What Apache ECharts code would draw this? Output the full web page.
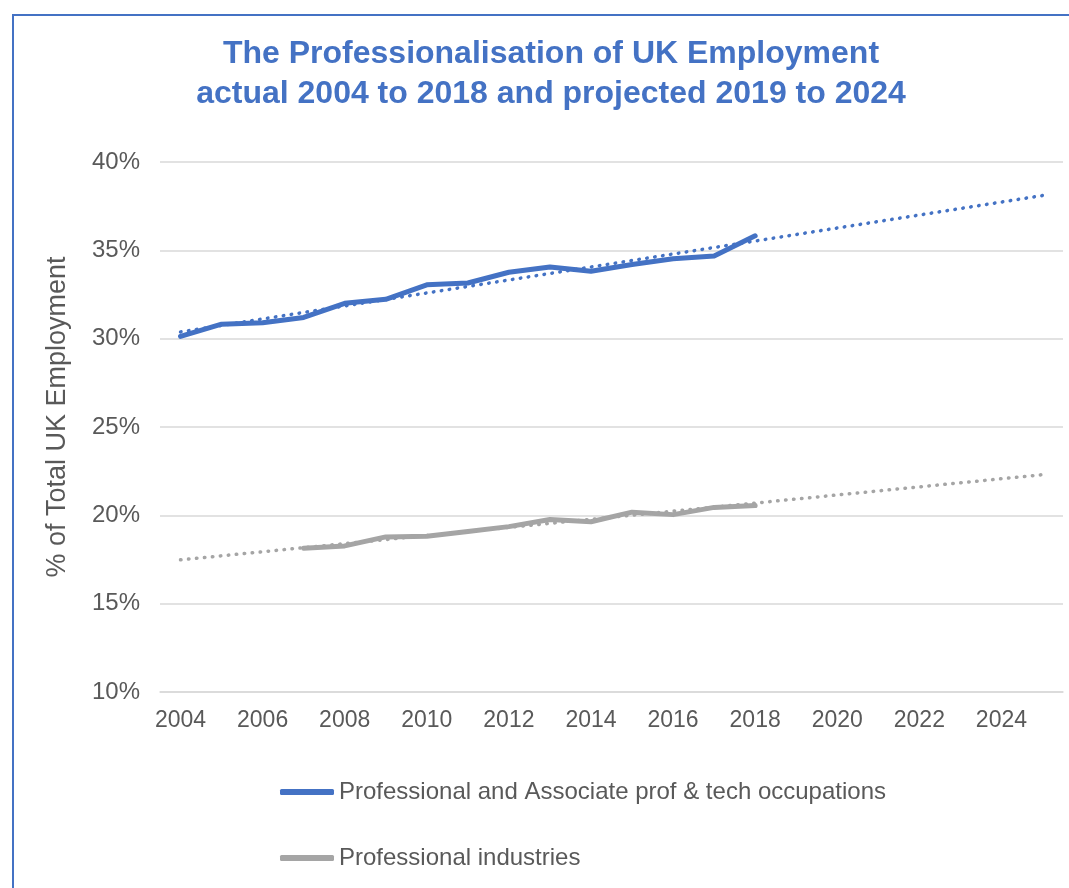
<!DOCTYPE html>
<html><head><meta charset="utf-8">
<script src="https://cdn.jsdelivr.net/npm/echarts@6/dist/echarts.min.js"></script>
<style>html,body{margin:0;padding:0;background:#fff}#c{width:1069px;height:888px}</style>
</head><body><div id="c"></div>
<script>
const years = ['2004','2005','2006','2007','2008','2009','2010','2011','2012','2013','2014','2015','2016','2017','2018','2019','2020','2021','2022','2023','2024','2025'];
const occYears = ['2004','2005','2006','2007','2008','2009','2010','2011','2012','2013','2014','2015','2016','2017','2018'];
const occValues = [30.13,30.82,30.9,31.2,32.0,32.23,33.05,33.15,33.76,34.06,33.82,34.2,34.52,34.68,35.82];
const indYears = ['2007','2008','2009','2010','2011','2012','2013','2014','2015','2016','2017','2018'];
const indValues = [18.13,18.27,18.78,18.82,19.09,19.36,19.76,19.64,20.18,20.04,20.45,20.55];
const trendYears = ['2004','2025'];
const occTrend = [30.38,38.10];
const indTrend = [17.48,22.30];
const yTicks = [10,15,20,25,30,35,40];

const FONT = "'Liberation Sans', Arial, sans-serif";
const BLUE = '#4472C4', GRAY = '#A5A5A5', TXT = '#595959';
const pair = (xs, vs) => xs.map((x,i)=>[x, vs[i]]);
const dotStyle = c => ({color:c, width:3.5, type:[0.5,7.5], cap:'round'});

const chart = echarts.init(document.getElementById('c'));
chart.setOption({
  animation:false,
  backgroundColor:'#fff',
  graphic:[{type:'rect', shape:{x:13,y:15,width:1200,height:1000}, style:{fill:'none', stroke:BLUE, lineWidth:2}}],
  title:{
    text:'The Professionalisation of UK Employment\nactual 2004 to 2018 and projected 2019 to 2024',
    left:546, textAlign:'center', top:29,
    textStyle:{color:BLUE, fontFamily:FONT, fontWeight:'bold', fontSize:32, lineHeight:40}
  },
  legend:{
    orient:'vertical', left:275, top:775, itemGap:42, itemWidth:54, itemHeight:6, icon:'roundRect',
    textStyle:{color:TXT, fontFamily:FONT, fontSize:24, padding:[0,0,0,0]},
    data:['Professional and Associate prof & tech occupations','Professional industries']
  },
  grid:{left:160, right:6, top:162, bottom:196},
  xAxis:{
    type:'category', data:years, boundaryGap:true,
    axisLine:{show:true, lineStyle:{color:'#D9D9D9', width:1.5}},
    axisTick:{show:false},
    axisLabel:{interval:1, color:TXT, fontFamily:FONT, fontSize:23, margin:17}
  },
  yAxis:{
    type:'value', min:yTicks[0], max:yTicks[yTicks.length-1], interval:5,
    name:'% of Total UK Employment', nameLocation:'middle', nameGap:89, nameRotate:90,
    nameTextStyle:{color:TXT, fontFamily:FONT, fontSize:27, padding:[0,0,0,20]},
    axisLine:{show:false}, axisTick:{show:false},
    axisLabel:{formatter:'{value}%', color:TXT, fontFamily:FONT, fontSize:24, margin:20},
    splitLine:{lineStyle:{color:'#D9D9D9', width:1.5}}
  },
  series:[
    {name:'Professional and Associate prof & tech occupations', type:'line', data:pair(occYears, occValues),
     showSymbol:false, symbol:'none', lineStyle:{color:BLUE, width:5, cap:'round', join:'round'}, itemStyle:{color:BLUE}},
    {name:'Professional industries', type:'line', data:pair(indYears, indValues),
     showSymbol:false, symbol:'none', lineStyle:{color:GRAY, width:5, cap:'round', join:'round'}, itemStyle:{color:GRAY}},
    {name:'occTrend', type:'line', data:pair(trendYears, occTrend), symbol:'none', lineStyle:dotStyle(BLUE), z:5},
    {name:'indTrend', type:'line', data:pair(trendYears, indTrend), symbol:'none', lineStyle:dotStyle(GRAY), z:5}
  ]
});
</script></body></html>
